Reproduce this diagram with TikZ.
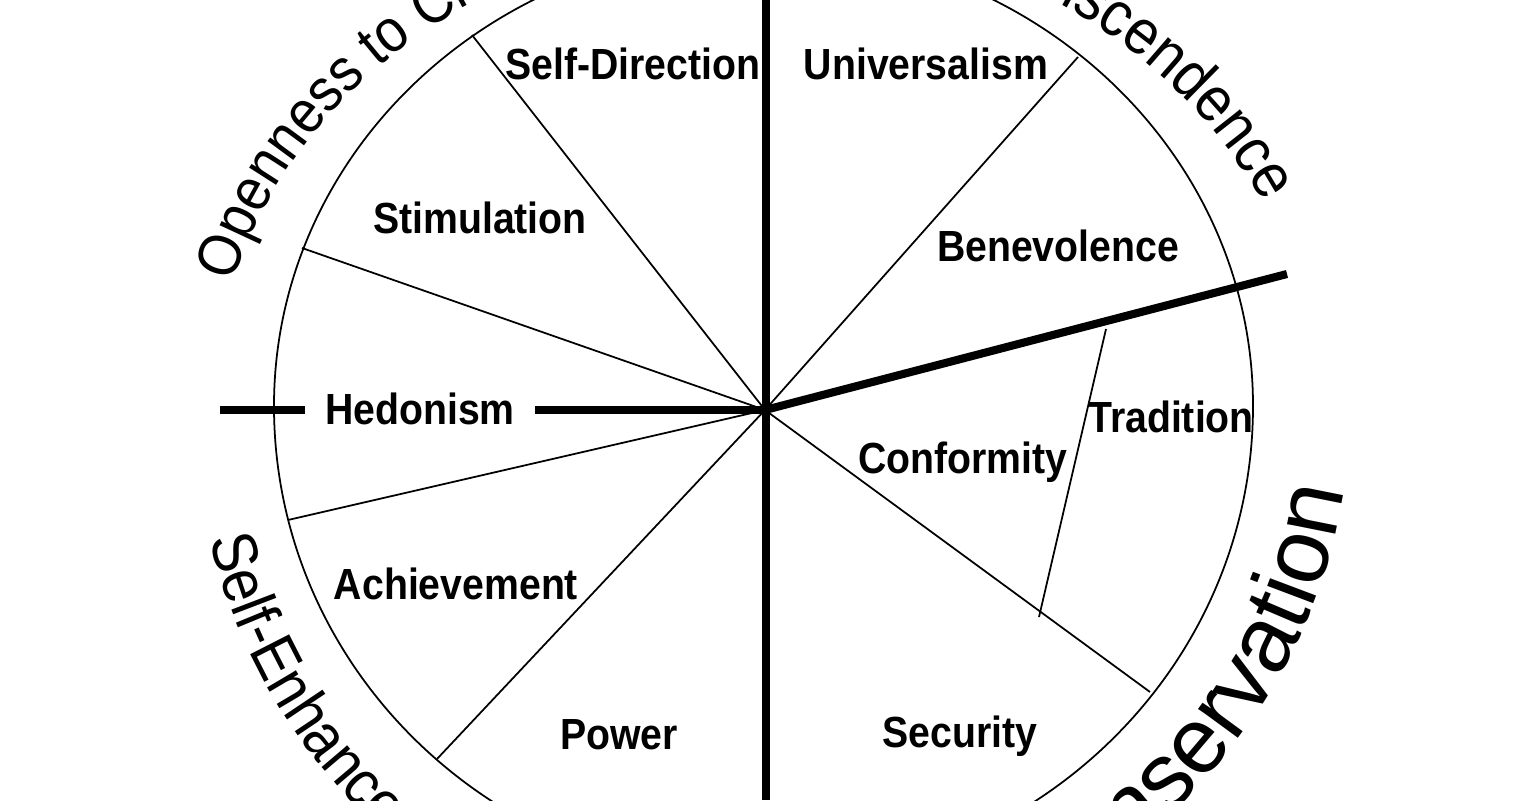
\documentclass[tikz,border=0pt]{standalone}
\usepackage{fontspec}
\setmainfont{Liberation Sans}
\newfontfamily\tallfont[FakeStretch=0.9]{Liberation Sans}
\usetikzlibrary{decorations.text}
\tikzset{
    value/.style={font=\tallfont\fontsize{12.4}{14}\selectfont\bfseries, anchor=base, inner sep=0pt},
    spoke/.style={line width=0.5pt},
    divide/.style={line width=2.3pt},
}
\newcommand\higherfont{\tallfont\fontsize{17.2}{20}\selectfont}
\newcommand\widerfont{\tallfont\fontsize{18.1}{21}\selectfont}
\newcommand\bigfont{\fontsize{26.5}{30}\selectfont}

\begin{document}
\begin{tikzpicture}
\useasboundingbox (-7.65,-3.90) rectangle (7.63,4.10);
\clip (-7.65,-3.90) rectangle (7.63,4.10);
\coordinate (O) at (0,0);

% outline, a little flatter on top
\draw[spoke] (4.88,0.04) arc[start angle=0, end angle=180, x radius=4.895cm, y radius=4.60cm]
    arc[start angle=180, end angle=360, x radius=4.895cm, y radius=4.75cm] -- cycle;

\foreach \x/\y in {-2.93/3.75, -4.63/1.62, -4.77/-1.10, -3.28/-3.49, 3.13/3.53, 3.85/-2.82}
{
    \draw[spoke] (O)--(\x,\y);
}
\draw[spoke] (3.41,0.81)--(2.74,-2.07);

\draw[divide] (0.01,4.10)--(0.01,-3.90);
\draw[divide] (-5.45,0)--(O);
\draw[divide] (O)--(5.22,1.36);

\foreach \n/\x/\y in {Self-Direction/-1.32/3.30, Universalism/1.61/3.30, Stimulation/-2.85/1.76,
    Benevolence/2.93/1.48, Tradition/4.06/-0.23, Conformity/1.98/-0.64,
    Achievement/-3.09/-1.89, Power/-1.46/-3.39, Security/1.95/-3.37}
{
    \node[value] (\n) at (\x,\y) {\n};
}
\node[value, fill=white, inner xsep=0.2cm, inner ysep=0.12cm] (Hedonism) at (-3.45,-0.14) {Hedonism};

% higher order values
\path[decorate, decoration={text along path, text align=left, text={|\higherfont|Openness to Change}}]
    (164.6:5.52cm and 4.8cm) arc[start angle=164.6, end angle=40, x radius=5.52cm, y radius=4.8cm];
\path[decorate, decoration={text along path, text align=right, text={|\widerfont|Self-Transcendence}}]
    (145:5.52cm and 4.8cm) arc[start angle=145, end angle=25.5, x radius=5.52cm, y radius=4.8cm];
\path[decorate, decoration={text along path, text align=right, text={|\bigfont|Conservation}}]
    (-110:5.85cm and 5.6cm) arc[start angle=-110, end angle=-8.2, x radius=5.85cm, y radius=5.6cm];
\path[decorate, decoration={text along path, text align=left, text={|\widerfont|Self-Enhancement}}]
    (193.2:5.70cm and 5.68cm) arc[start angle=193.2, end angle=320, x radius=5.70cm, y radius=5.68cm];

\end{tikzpicture}
\end{document}
